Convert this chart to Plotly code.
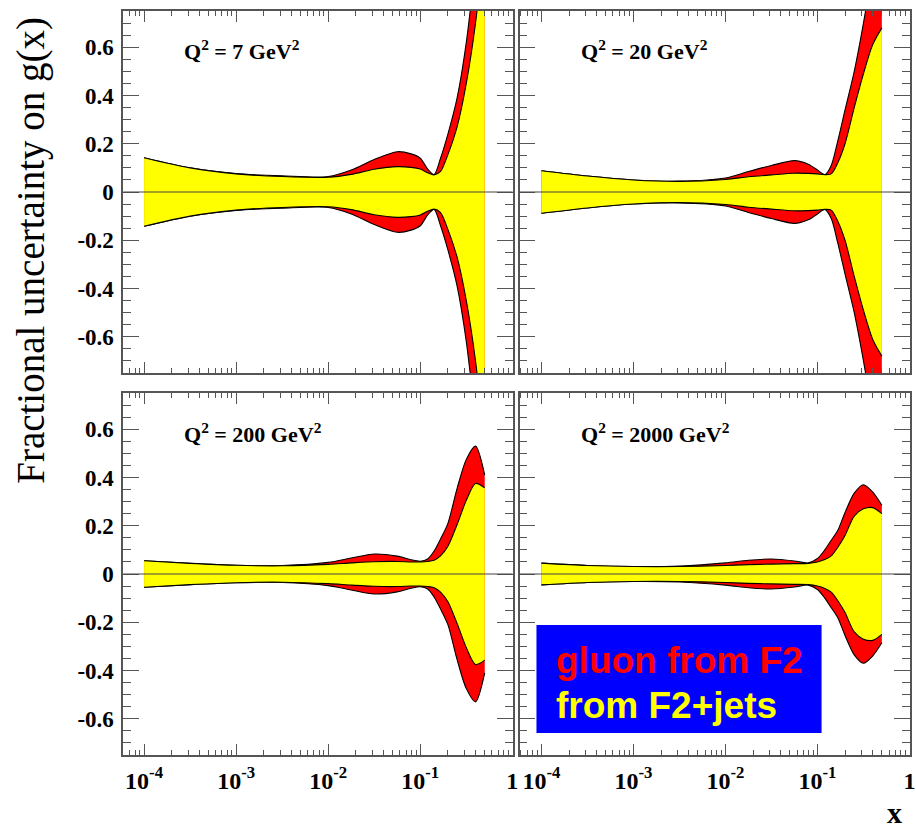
import plotly.graph_objects as go

# ---------------- data ----------------
log_x = [-4.0, -3.5, -3.0, -2.5, -2.0, -1.75, -1.5, -1.25, -1.1, -1.0,
         -0.92, -0.85, -0.78, -0.7, -0.6, -0.5, -0.4, -0.3]
x_vals = [10 ** v for v in log_x]

q2_labels = ["Q<sup>2</sup> = 7 GeV<sup>2</sup>", "Q<sup>2</sup> = 20 GeV<sup>2</sup>",
             "Q<sup>2</sup> = 200 GeV<sup>2</sup>", "Q<sup>2</sup> = 2000 GeV<sup>2</sup>"]

# half-width of the uncertainty band, gluon from F2 (red)
f2_q7 = [0.142, 0.100, 0.076, 0.067, 0.064, 0.091, 0.135, 0.167, 0.158, 0.140,
         0.095, 0.072, 0.14, 0.24, 0.39, 0.62, 0.95, 1.30]
f2_q20 = [0.088, 0.066, 0.050, 0.045, 0.058, 0.085, 0.110, 0.130, 0.115, 0.091,
          0.072, 0.110, 0.21, 0.34, 0.50, 0.70, 0.93, 1.20]
f2_q200 = [0.055, 0.044, 0.036, 0.035, 0.048, 0.066, 0.083, 0.074, 0.059, 0.053,
           0.062, 0.095, 0.145, 0.21, 0.355, 0.475, 0.53, 0.41]
f2_q2000 = [0.045, 0.035, 0.031, 0.033, 0.046, 0.057, 0.062, 0.054, 0.046, 0.064,
            0.100, 0.140, 0.18, 0.255, 0.335, 0.37, 0.34, 0.285]

# half-width of the uncertainty band, from F2 + jets (yellow)
jets_q7 = [0.142, 0.100, 0.075, 0.064, 0.061, 0.073, 0.094, 0.105, 0.102, 0.095,
           0.080, 0.071, 0.085, 0.155, 0.27, 0.45, 0.70, 1.05]
jets_q20 = [0.088, 0.066, 0.050, 0.044, 0.052, 0.063, 0.071, 0.078, 0.077, 0.075,
            0.072, 0.075, 0.12, 0.20, 0.35, 0.49, 0.61, 0.68]
jets_q200 = [0.055, 0.044, 0.036, 0.034, 0.040, 0.046, 0.051, 0.052, 0.050, 0.050,
             0.052, 0.057, 0.075, 0.115, 0.205, 0.305, 0.375, 0.357]
jets_q2000 = [0.045, 0.035, 0.031, 0.031, 0.035, 0.039, 0.041, 0.043, 0.044, 0.050,
              0.060, 0.075, 0.11, 0.16, 0.24, 0.27, 0.275, 0.25]

f2_sets = [f2_q7, f2_q20, f2_q200, f2_q2000]
jets_sets = [jets_q7, jets_q20, jets_q200, jets_q2000]

y_tick_vals = [-0.6, -0.4, -0.2, 0, 0.2, 0.4, 0.6]
y_tick_text = ["-0.6", "-0.4", "-0.2", "0", "0.2", "0.4", "0.6"]
x_tick_vals = [1e-4, 1e-3, 1e-2, 1e-1, 1]
x_tick_text = ["10<sup>-4</sup>", "10<sup>-3</sup>", "10<sup>-2</sup>", "10<sup>-1</sup>", "1"]

legend_lines = ["gluon from F2", "from F2+jets"]

# ---------------- figure ----------------
W, H = 916, 828
RED = "#ff0000"
YELLOW = "#ffff00"
FRAME = "#555555"
SERIF = "Liberation Serif, Times New Roman, serif"


def px_x(px):
    return px / W


def px_y(py):
    return 1 - py / H


fig = go.Figure()

axis_ids = ["", "2", "3", "4"]
for i in range(4):
    xa = "x" + axis_ids[i]
    ya = "y" + axis_ids[i]
    common = dict(xaxis=xa, yaxis=ya, mode="lines", hoverinfo="skip", showlegend=False,
                  line=dict(color="black", width=1.1, shape="spline", smoothing=0.8))
    fig.add_trace(go.Scatter(x=x_vals, y=f2_sets[i], **common))
    fig.add_trace(go.Scatter(x=x_vals, y=[-v for v in f2_sets[i]], fill="tonexty",
                             fillcolor=RED, **common))
    fig.add_trace(go.Scatter(x=x_vals, y=jets_sets[i], **common))
    fig.add_trace(go.Scatter(x=x_vals, y=[-v for v in jets_sets[i]], fill="tonexty",
                             fillcolor=YELLOW, **common))

xdom_left = [px_x(124), px_x(516)]
xdom_right = [px_x(523), 1.0]
ydom_top = [px_y(373), px_y(11)]
ydom_bot = [px_y(755), px_y(393)]


def xaxis(dom, anchor, labels, rng):
    return dict(domain=dom, anchor=anchor, type="log", range=rng,
                showline=True, linecolor=FRAME, linewidth=1.5, mirror="ticks",
                ticks="inside", ticklen=11, tickwidth=1, tickcolor=FRAME,
                tickvals=x_tick_vals, ticktext=x_tick_text, showticklabels=labels,
                tickfont=dict(family=SERIF, size=24, color="black", weight="bold"),
                ticklabelstandoff=3,
                minor=dict(ticks="inside", ticklen=5, tickwidth=1, tickcolor=FRAME, dtick="D1",
                           showgrid=False),
                showgrid=False, zeroline=False)


def yaxis(dom, anchor, labels):
    return dict(domain=dom, anchor=anchor, range=[-0.75, 0.75],
                showline=True, linecolor=FRAME, linewidth=1.5, mirror="ticks",
                ticks="inside", ticklen=16, tickwidth=1, tickcolor=FRAME,
                tickvals=y_tick_vals, ticktext=y_tick_text, showticklabels=labels,
                tickfont=dict(family=SERIF, size=23, color="black", weight="bold"),
                ticklabelstandoff=3,
                minor=dict(ticks="inside", ticklen=8, tickwidth=1, tickcolor=FRAME, dtick=0.05,
                           showgrid=False),
                showgrid=False, zeroline=False)


rng_left = [-4.227, 0.003]
rng_right = [-4.237, 0.006]
fig.update_layout(
    width=W, height=H, margin=dict(l=0, r=0, t=0, b=0),
    paper_bgcolor="white", plot_bgcolor="white",
    xaxis=xaxis(xdom_left, "y", False, rng_left),
    yaxis=yaxis(ydom_top, "x", True),
    xaxis2=xaxis(xdom_right, "y2", False, rng_right),
    yaxis2=yaxis(ydom_top, "x2", False),
    xaxis3=xaxis(xdom_left, "y3", True, rng_left),
    yaxis3=yaxis(ydom_bot, "x3", True),
    xaxis4=xaxis(xdom_right, "y4", True, rng_right),
    yaxis4=yaxis(ydom_bot, "x4", False),
)

# zero reference lines
for i in range(4):
    fig.add_shape(type="line", xref="x" + axis_ids[i] + " domain", yref="y" + axis_ids[i],
                  x0=0, x1=1, y0=0, y1=0, line=dict(color="#444444", width=1), layer="above")

# panel labels
label_pos = [(183, 50), (583, 50), (183, 433), (583, 433)]
for (px, py), txt in zip(label_pos, q2_labels):
    fig.add_annotation(x=px_x(px), y=px_y(py), xref="paper", yref="paper", text=txt,
                       showarrow=False, xanchor="left", yanchor="middle",
                       font=dict(family=SERIF, size=22, color="black", weight="bold"))

# y-axis title
fig.add_annotation(x=px_x(31), y=px_y(250), xref="paper", yref="paper",
                   text="Fractional uncertainty on g(x)", textangle=-90, showarrow=False,
                   xanchor="center", yanchor="middle",
                   font=dict(family=SERIF, size=39, color="black"))

# x-axis title
fig.add_annotation(x=px_x(900), y=px_y(812), xref="paper", yref="paper", text="x",
                   showarrow=False, xanchor="center", yanchor="middle",
                   font=dict(family=SERIF, size=30, color="black", weight="bold"))

# legend box
fig.add_shape(type="rect", xref="paper", yref="paper",
              x0=px_x(540), x1=px_x(827), y0=px_y(733), y1=px_y(625),
              fillcolor="#0000ff", line=dict(width=0), layer="above")
fig.add_annotation(x=px_x(558), y=px_y(660), xref="paper", yref="paper", text=legend_lines[0],
                   showarrow=False, xanchor="left", yanchor="middle",
                   font=dict(family="Liberation Sans, Arial, sans-serif", size=37,
                             color=RED, weight="bold"))
fig.add_annotation(x=px_x(558), y=px_y(705), xref="paper", yref="paper", text=legend_lines[1],
                   showarrow=False, xanchor="left", yanchor="middle",
                   font=dict(family="Liberation Sans, Arial, sans-serif", size=37,
                             color=YELLOW, weight="bold"))

# remove the default page margin so the 916x828 figure fills the window exactly
fig.write_html("out.html", config={"displayModeBar": False},
               post_script="document.body.style.margin='0';document.body.style.overflow='hidden';")
